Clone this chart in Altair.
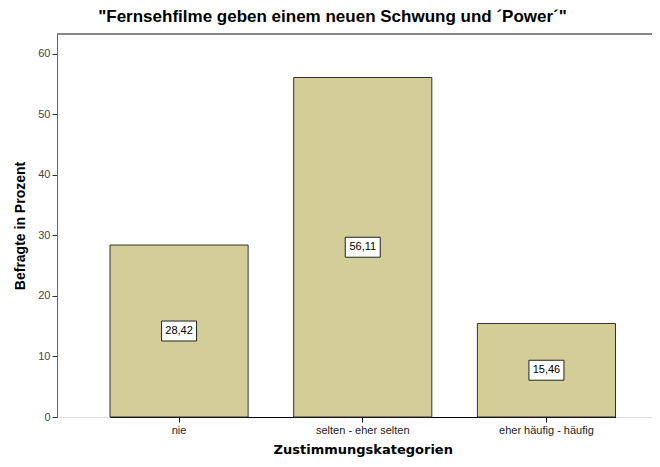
import altair as alt
import pandas as pd

categories = ["nie", "selten - eher selten", "eher häufig - häufig"]
values = [28.42, 56.11, 15.46]
labels = ["28,42", "56,11", "15,46"]

df = pd.DataFrame({"cat": categories, "val": values, "lab": labels})
df["mid"] = df["val"] / 2

FONT = "Liberation Sans"
W = 595
H = 383

x = alt.X(
    "cat:N",
    sort=categories,
    scale=alt.Scale(paddingInner=0.248, paddingOuter=0, range=[53, 558.5]),
    axis=alt.Axis(
        title="Zustimmungskategorien",
        labelAngle=0,
        labelFont=FONT,
        labelFontSize=11,
        labelColor="#222222",
        labelPadding=2,
        tickSize=5,
        tickColor="#000000",
        domainColor="#000000",
        titleFont="DejaVu Sans",
        titleFontSize=13,
        titleFontWeight="bold",
        titleColor="#000000",
        titlePadding=8,
    ),
)

bars = alt.Chart(df).mark_bar(
    fill="#D3CE97", stroke="#333333", strokeWidth=1
).encode(
    x=x,
    y=alt.Y(
        "val:Q",
        scale=alt.Scale(domain=[0, 63.3], nice=False),
        axis=alt.Axis(
            title="Befragte in Prozent",
            values=[0, 10, 20, 30, 40, 50, 60],
            grid=False,
            labelFont=FONT,
            labelFontSize=11,
            labelColor="#444444",
            labelPadding=2,
            tickSize=5,
            tickColor="#333333",
            domainColor="#666666",
            titleFont=FONT,
            titleFontSize=14,
            titleFontWeight="bold",
            titleColor="#000000",
            titlePadding=10,
        ),
    ),
)

top_border = alt.Chart(pd.DataFrame({"k": [0]})).mark_rule(
    color="#888888", strokeWidth=2
).encode(y=alt.value(0), x=alt.value(0), x2=alt.value(W))

boxes = alt.Chart(df).mark_point(
    shape="M-1,-0.57L1,-0.57L1,0.57L-1,0.57Z",
    size=1225,
    filled=True,
    fill="#FFFFFF",
    stroke="#222222",
    strokeWidth=1,
    opacity=1,
).encode(x=alt.X("cat:N", sort=categories), y=alt.Y("mid:Q"))

texts = alt.Chart(df).mark_text(
    font=FONT, fontSize=11, color="#000000", baseline="middle", align="center"
).encode(x=alt.X("cat:N", sort=categories), y=alt.Y("mid:Q"), text="lab:N")

chart = (
    alt.layer(bars, top_border, boxes, texts)
    .properties(
        width=W,
        height=H,
        autosize=alt.AutoSizeParams(type="none"),
        padding={"left": 49, "top": 26, "right": 0, "bottom": 42},
        title=alt.TitleParams(
            text='"Fernsehfilme geben einem neuen Schwung und ´Power´"',
            font=FONT,
            fontSize=17,
            fontWeight="bold",
            color="#000000",
            anchor="middle",
            dx=-22,
            offset=7,
        ),
    )
    .configure_view(fill="#F0F0F0", strokeWidth=0)
    .configure(background="#FFFFFF")
)

chart.save("out.html", embed_options={"renderer": "svg", "actions": False})
